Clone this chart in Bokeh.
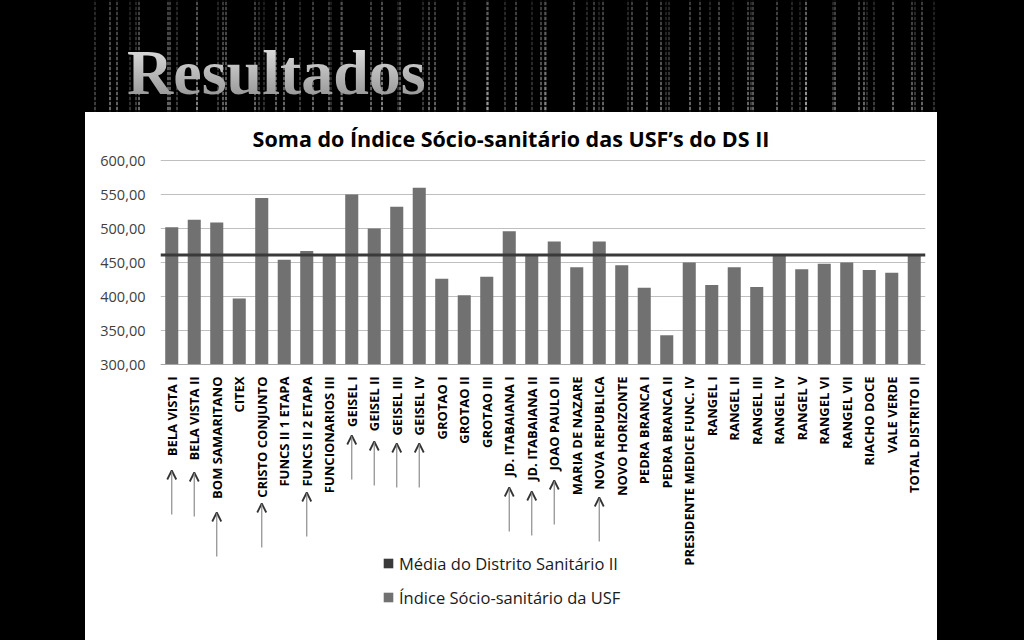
import math
from bokeh.plotting import figure
from bokeh.layouts import column
from bokeh.models import (ColumnDataSource, Legend, LegendItem, Arrow, OpenHead, Div,
                          CustomJSTickFormatter, FixedTicker, Range1d, FactorRange, Label)
from bokeh.embed import file_html
from bokeh.resources import INLINE

# ---------------- data ----------------
categories = [
    "BELA VISTA I", "BELA VISTA II", "BOM SAMARITANO", "CITEX", "CRISTO CONJUNTO",
    "FUNCS II 1 ETAPA", "FUNCS II 2 ETAPA", "FUNCIONARIOS III", "GEISEL I", "GEISEL II",
    "GEISEL III", "GEISEL IV", "GROTAO I", "GROTAO II", "GROTAO III",
    "JD. ITABAIANA I", "JD. ITABAIANA II", "JOAO PAULO II", "MARIA DE NAZARE", "NOVA REPUBLICA",
    "NOVO HORIZONTE", "PEDRA BRANCA I", "PEDRA BRANCA II", "PRESIDENTE MEDICE FUNC. IV", "RANGEL I",
    "RANGEL II", "RANGEL III", "RANGEL IV", "RANGEL V", "RANGEL VI",
    "RANGEL VII", "RIACHO DOCE", "VALE VERDE", "TOTAL DISTRITO II",
]
index_values = [
    502, 513, 509, 397, 545,
    454, 467, 461, 550, 500,
    532, 560, 426, 402, 429,
    496, 462, 481, 443, 481,
    446, 413, 343, 450, 417,
    443, 414, 460, 440, 448,
    450, 439, 435, 461,
]
district_mean = 461.0
y_ticks = [300, 350, 400, 450, 500, 550, 600]

series_mean_label = "Média do Distrito Sanitário II"
series_index_label = "Índice Sócio-sanitário da USF"
chart_title = "Soma do Índice Sócio-sanitário das USF’s do DS II"
banner_text = "Resultados"

# categories marked with an arrow in the slide
arrow_categories = [
    "BELA VISTA I", "BELA VISTA II", "BOM SAMARITANO", "CRISTO CONJUNTO", "FUNCS II 2 ETAPA",
    "GEISEL I", "GEISEL II", "GEISEL III", "GEISEL IV",
    "JD. ITABAIANA I", "JD. ITABAIANA II", "JOAO PAULO II", "NOVA REPUBLICA",
]

# ---------------- layout constants ----------------
Y_MIN, Y_MAX = 300, 600
W, H = 852, 528
BL, BR = 75, 12
TOP_H = 48                          # title area above the 600 gridline
PLOT_H = 204                        # pixel height of the 300..600 value band
BELOW_H = H - TOP_H - PLOT_H        # label / legend area under the axis line
PX = (Y_MAX - Y_MIN) / PLOT_H       # data units per pixel (vertical)
Y_BOTTOM = Y_MIN - BELOW_H * PX
Y_TOP = Y_MAX + TOP_H * PX

# arrow tips: distance (px) below the axis line, just under each label
arrow_tip_px = [106, 108, 148, 139, 128, 71, 77, 79, 79, 123, 127, 116, 133]
ARROW_LEN = 44

# ---------------- chart ----------------
p = figure(width=W, height=H,
           x_range=FactorRange(factors=categories),
           y_range=Range1d(Y_BOTTOM, Y_TOP),
           output_backend="svg", toolbar_location=None,
           min_border_left=BL, min_border_right=BR, min_border_top=0, min_border_bottom=0,
           background_fill_color="white", border_fill_color="white",
           outline_line_color=None, margin=(0, 1024 - 85 - W, 0, 85),
           styles={"background-color": "white"})

src = ColumnDataSource(dict(cat=categories, val=index_values))
bars = p.vbar(x="cat", top="val", bottom=Y_MIN, width=0.58, source=src,
              fill_color="#717171", line_color=None)

# district mean drawn across the whole category span
mean_src = ColumnDataSource(dict(y=[district_mean], left=[0], right=[len(categories)]))
mean_bar = p.hbar(y="y", left="left", right="right", height=3 * PX, source=mean_src,
                  fill_color="#3a3a3a", line_color=None)

# title
p.add_layout(Label(x=len(categories) / 2, y=Y_MAX, x_offset=-32, y_offset=22,
                   text=chart_title, text_align="center", text_baseline="alphabetic",
                   text_font="Open Sans", text_font_style="bold",
                   text_font_size="21.5px", text_color="#000000"))

# axes
p.yaxis.ticker = FixedTicker(ticks=y_ticks)
p.yaxis.formatter = CustomJSTickFormatter(code="return tick.toFixed(2).replace('.', ',');")
p.yaxis.axis_line_color = None
p.yaxis.major_tick_line_color = None
p.yaxis.minor_tick_line_color = None
p.yaxis.major_tick_out = 0
p.yaxis.major_label_standoff = 15
p.yaxis.major_label_text_font = "Open Sans"
p.yaxis.major_label_text_font_size = "14.5px"
p.yaxis.major_label_text_color = "#404040"

p.xaxis.fixed_location = Y_MIN
p.xaxis.major_label_orientation = math.pi / 2
p.xaxis.major_label_text_font = "Open Sans"
p.xaxis.major_label_text_font_style = "bold"
p.xaxis.major_label_text_font_size = "13px"
p.xaxis.major_label_text_color = "#000000"
p.xaxis.major_tick_line_color = None
p.xaxis.major_tick_out = 0
p.xaxis.major_label_standoff = 12
p.xaxis.axis_line_color = "#a6a6a6"

p.xgrid.grid_line_color = None
p.ygrid.grid_line_color = "#bfbfbf"
p.ygrid.grid_line_width = 1

# arrows
ax = [categories.index(c) + 0.5 for c in arrow_categories]
a_end = [Y_MIN - t * PX for t in arrow_tip_px]
a_start = [Y_MIN - (t + ARROW_LEN) * PX for t in arrow_tip_px]
asrc = ColumnDataSource(dict(x=ax, y0=a_start, y1=a_end))
arrows = Arrow(end=OpenHead(size=9, line_color="#333333", line_width=1.8),
               source=asrc, x_start="x", y_start="y0", x_end="x", y_end="y1",
               line_color="#8c8c8c", line_width=1.2)
p.add_layout(arrows)

legend = Legend(items=[LegendItem(label=series_mean_label, renderers=[mean_bar]),
                       LegendItem(label=series_index_label, renderers=[bars])],
                location=(222, 31), orientation="vertical",
                padding=0, margin=0, spacing=10,
                glyph_width=12, glyph_height=12, label_height=24, label_standoff=5,
                label_text_font="Open Sans", label_text_font_size="16.5px",
                label_text_color="#1a1a1a",
                background_fill_alpha=0, border_line_color=None)
p.add_layout(legend)

# ---------------- banner (slide header) ----------------
streaks = ", ".join([
    "repeating-linear-gradient(0deg, rgba(0,0,0,0.8) 0px, rgba(0,0,0,0.8) 2px, rgba(0,0,0,0) 2px, rgba(0,0,0,0) 5px)",
    "linear-gradient(0deg, rgba(0,0,0,0) 0%, rgba(0,0,0,0.45) 100%)",
    "repeating-linear-gradient(90deg, rgba(0,0,0,0) 0px, rgba(0,0,0,0) 24px, rgba(230,230,230,0.45) 24px, rgba(230,230,230,0.45) 26px, rgba(0,0,0,0) 26px, rgba(0,0,0,0) 29px)",
    "repeating-linear-gradient(90deg, rgba(0,0,0,0) 0px, rgba(0,0,0,0) 9px, rgba(210,210,210,0.3) 9px, rgba(210,210,210,0.3) 11px, rgba(0,0,0,0) 11px, rgba(0,0,0,0) 41px)",
    "repeating-linear-gradient(90deg, rgba(0,0,0,0) 0px, rgba(0,0,0,0) 31px, rgba(245,245,245,0.4) 31px, rgba(245,245,245,0.4) 33px, rgba(0,0,0,0) 33px, rgba(0,0,0,0) 53px)",
    "repeating-linear-gradient(90deg, rgba(0,0,0,0) 0px, rgba(0,0,0,0) 44px, rgba(200,200,200,0.25) 44px, rgba(200,200,200,0.25) 46px, rgba(0,0,0,0) 46px, rgba(0,0,0,0) 67px)",
])
banner_html = (
    '<div style="position:relative;width:1024px;height:112px;background:#000;overflow:hidden;">'
    f'<div style="position:absolute;left:85px;top:0;width:852px;height:112px;background-image:{streaks};"></div>'
    '<div style="position:absolute;left:127px;top:41px;font-family:\'Liberation Serif\';'
    'font-weight:bold;font-size:64px;line-height:64px;white-space:nowrap;'
    'background:linear-gradient(180deg,#e6e6e6 0%,#bdbdbd 45%,#8c8c8c 100%);'
    '-webkit-background-clip:text;background-clip:text;-webkit-text-fill-color:transparent;'
    f'color:#b8b8b8;">{banner_text}</div>'
    '</div>'
)
banner = Div(text=banner_html, width=1024, height=112,
             styles={"background-color": "black", "margin": "0", "padding": "0"})

layout = column(banner, p, styles={"background-color": "black"})

open("out.html", "w").write(file_html(layout, INLINE))
